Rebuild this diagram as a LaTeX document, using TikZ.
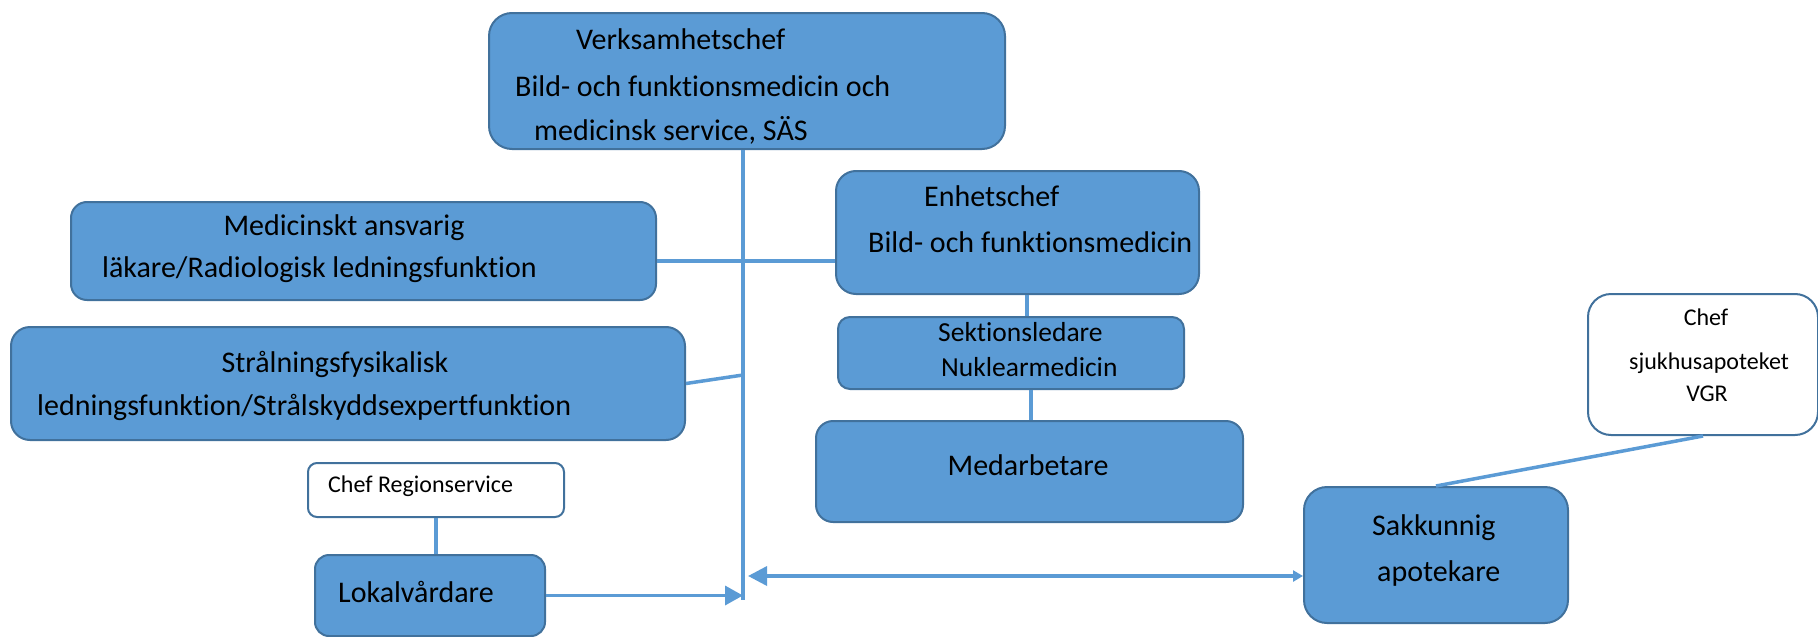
\documentclass[tikz,border=0pt]{standalone}
\usepackage{fontspec}
\setmainfont[Ligatures={NoCommon}]{Carlito}
\usetikzlibrary{arrows.meta}
\definecolor{boxfill}{HTML}{5B9BD5}
\definecolor{boxline}{HTML}{41719C}
\begin{document}
\begin{tikzpicture}[x=1pt,y=-1pt,
  bluebox/.style={draw=boxline, line width=2pt, fill=boxfill, rounded corners=#1, inner sep=0pt, anchor=north west},
  whitebox/.style={draw=boxline, line width=2pt, fill=white, rounded corners=#1, inner sep=0pt, anchor=north west},
  big/.style={inner sep=0pt, font=\fontsize{30}{36}\selectfont},
  mid/.style={inner sep=0pt, font=\fontsize{27.5}{33}\selectfont},
  small/.style={inner sep=0pt, font=\fontsize{24}{29}\selectfont},
  conn/.style={draw=boxfill, line width=3.5pt}]
\useasboundingbox (0,0) rectangle (1818,637);
% boxes
\node[bluebox=23pt, minimum width=516pt, minimum height=136pt] (top) at (488,12) {};
\node[bluebox=16pt, minimum width=585pt, minimum height=98pt] (med) at (70,201) {};
\node[bluebox=20pt, minimum width=363pt, minimum height=123pt] (enh) at (835,170) {};
\node[bluebox=12pt, minimum width=346pt, minimum height=72pt] (sek) at (837,316) {};
\node[bluebox=17pt, minimum width=427pt, minimum height=101pt] (meda) at (815,420) {};
\node[bluebox=19pt, minimum width=674pt, minimum height=113pt] (stral) at (10,326) {};
\node[whitebox=9pt, minimum width=256pt, minimum height=54pt] (chreg) at (307,462) {};
\node[bluebox=14pt, minimum width=230pt, minimum height=81pt] (lokal) at (314,554) {};
\node[bluebox=23pt, minimum width=264pt, minimum height=136pt] (sak) at (1303,486) {};
\node[whitebox=23pt, minimum width=230pt, minimum height=141pt] (chef) at (1587,293) {};
% texts
\node[big, anchor=base west] (t1) at (576,49) {Verksamhetschef};
\node[big, anchor=base west] (t2) at (515,96) {Bild- och funktionsmedicin och};
\node[big, anchor=base west] (t3) at (534,140) {medicinsk service, SÄS};
\node[big, anchor=base] (t4) at (344,235) {Medicinskt ansvarig};
\node[big, anchor=base west] (t5) at (102,277) {läkare/Radiologisk ledningsfunktion};
\node[big, anchor=base west] (t6) at (924,206) {Enhetschef};
\node[big, anchor=base west] (t7) at (868,252) {Bild- och funktionsmedicin};
\node[mid, anchor=base west] (t8) at (938,341) {Sektionsledare};
\node[mid, anchor=base west] (t9) at (941,376) {Nuklearmedicin};
\node[big, anchor=base] (t10) at (1028,475) {Medarbetare};
\node[big, anchor=base] (t11) at (335,372) {Strålningsfysikalisk};
\node[big, anchor=base west] (t12) at (37,415) {ledningsfunktion/Strålskyddsexpertfunktion};
\node[small, anchor=base west] (t13) at (328,492) {Chef Regionservice};
\node[big, anchor=base west] (t14) at (338,602) {Lokalvårdare};
\node[big, anchor=base west] (t15) at (1372,535) {Sakkunnig};
\node[big, anchor=base west] (t16) at (1377,581) {apotekare};
\node[small, anchor=base] (t17) at (1706,325) {Chef};
\node[small, anchor=base] (t18) at (1709,369) {sjukhusapoteket};
\node[small, anchor=base] (t19) at (1707,401) {VGR};
% connectors
\coordinate (vbot) at (743,600);
\coordinate (mrow) at (0,261);
\coordinate (sj) at (743,375);
\coordinate (c1) at (1027,0);
\coordinate (c2) at (1031,0);
\coordinate (da) at (748,576);
\draw[conn] (vbot |- top.south) -- (vbot);
\draw[conn] (med.east |- mrow) -- (enh.west |- mrow);
\draw[conn] (stral.east) -- (sj);
\draw[conn] (enh.south -| c1) -- (sek.north -| c1);
\draw[conn] (sek.south -| c2) -- (meda.north -| c2);
\draw[conn] (chreg.south) -- (chreg.south |- lokal.north);
\draw[conn, -{Triangle[length=18pt,width=19pt]}] (lokal.east) -- (vbot |- lokal.east);
\draw[conn, {Triangle[length=19pt,width=19pt]}-{Triangle[length=10pt,width=11pt]}] (da) -- (sak.west |- da);
\draw[conn] (chef.south) -- (sak.north);
\end{tikzpicture}
\end{document}
